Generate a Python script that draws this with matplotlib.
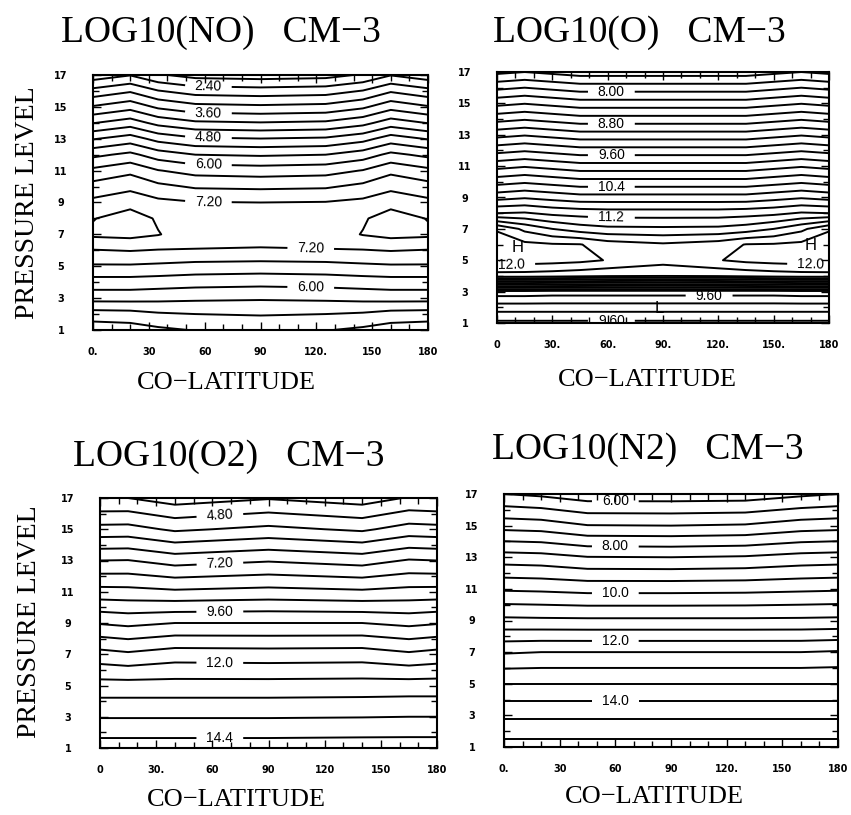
import numpy as np
import matplotlib
matplotlib.use("Agg")
import matplotlib.pyplot as plt

# ---------- values ----------
# rows = pressure level, columns = co-latitude (deg)

no_lev = [1, 2, 3, 4, 5, 6, 7, 8, 9, 10, 11, 12, 13, 14, 15, 16, 17]
no_colat = [0, 20, 35, 55, 90, 125, 145, 160, 180]
no_val = [
    [4.55, 4.60, 4.72, 4.82, 4.90, 4.82, 4.72, 4.60, 4.55],
    [5.02, 5.05, 5.15, 5.20, 5.23, 5.20, 5.15, 5.05, 5.02],
    [5.75, 5.75, 5.72, 5.68, 5.65, 5.68, 5.72, 5.75, 5.75],
    [6.23, 6.23, 6.20, 6.16, 6.13, 6.16, 6.20, 6.23, 6.23],
    [6.75, 6.75, 6.72, 6.66, 6.63, 6.66, 6.72, 6.75, 6.75],
    [7.18, 7.22, 7.18, 7.18, 7.17, 7.18, 7.18, 7.22, 7.18],
    [7.68, 7.72, 7.62, 7.38, 7.33, 7.38, 7.62, 7.72, 7.68],
    [7.58, 7.80, 7.55, 7.40, 7.38, 7.40, 7.55, 7.80, 7.58],
    [7.30, 7.45, 7.30, 7.22, 7.20, 7.22, 7.30, 7.45, 7.30],
    [6.95, 7.10, 6.90, 6.75, 6.72, 6.75, 6.90, 7.10, 6.95],
    [6.50, 6.70, 6.42, 6.25, 6.20, 6.25, 6.42, 6.70, 6.50],
    [5.90, 6.10, 5.80, 5.60, 5.55, 5.60, 5.80, 6.10, 5.90],
    [5.17, 5.39, 5.06, 4.86, 4.81, 4.86, 5.06, 5.39, 5.17],
    [4.38, 4.60, 4.27, 4.07, 4.02, 4.07, 4.27, 4.60, 4.38],
    [3.64, 3.86, 3.53, 3.33, 3.28, 3.33, 3.53, 3.86, 3.64],
    [2.93, 3.15, 2.82, 2.62, 2.57, 2.62, 2.82, 3.15, 2.93],
    [2.16, 2.38, 2.05, 1.85, 1.80, 1.85, 2.05, 2.38, 2.16],
]

o_lev = [1, 2, 3, 4, 5, 6, 7, 8, 9, 10, 11, 12, 13, 14, 15, 16, 17]
o_colat = [0, 15, 30, 45, 60, 90, 120, 135, 150, 165, 180]
o_val = [
    [9.65, 9.65, 9.65, 9.65, 9.65, 9.65, 9.65, 9.65, 9.65, 9.65, 9.65],
    [9.30, 9.30, 9.30, 9.30, 9.30, 9.30, 9.30, 9.30, 9.30, 9.30, 9.30],
    [9.72, 9.72, 9.70, 9.70, 9.70, 9.70, 9.70, 9.70, 9.70, 9.72, 9.72],
    [11.70, 11.70, 11.68, 11.65, 11.62, 11.60, 11.62, 11.65, 11.68, 11.70, 11.70],
    [12.12, 12.10, 12.08, 12.05, 11.99, 11.88, 11.99, 12.05, 12.08, 12.10, 12.12],
    [12.10, 12.05, 12.02, 12.01, 11.90, 11.83, 11.90, 12.01, 12.02, 12.05, 12.10],
    [11.98, 11.75, 11.60, 11.50, 11.45, 11.44, 11.45, 11.50, 11.60, 11.75, 11.98],
    [11.20, 11.22, 11.15, 11.12, 11.10, 11.10, 11.10, 11.12, 11.15, 11.22, 11.20],
    [10.73, 10.78, 10.73, 10.68, 10.68, 10.68, 10.68, 10.68, 10.73, 10.78, 10.73],
    [10.32, 10.37, 10.32, 10.27, 10.27, 10.27, 10.27, 10.27, 10.32, 10.37, 10.32],
    [9.93, 9.98, 9.93, 9.88, 9.88, 9.88, 9.88, 9.88, 9.93, 9.98, 9.93],
    [9.53, 9.58, 9.53, 9.48, 9.48, 9.48, 9.48, 9.48, 9.53, 9.58, 9.53],
    [9.13, 9.18, 9.13, 9.08, 9.08, 9.08, 9.08, 9.08, 9.13, 9.18, 9.13],
    [8.73, 8.78, 8.73, 8.68, 8.68, 8.68, 8.68, 8.68, 8.73, 8.78, 8.73],
    [8.34, 8.39, 8.34, 8.29, 8.29, 8.29, 8.29, 8.29, 8.34, 8.39, 8.34],
    [7.95, 8.00, 7.95, 7.90, 7.90, 7.90, 7.90, 7.90, 7.95, 8.00, 7.95],
    [7.55, 7.60, 7.55, 7.50, 7.50, 7.50, 7.50, 7.50, 7.55, 7.60, 7.55],
]

o2_lev = [1, 3, 5, 7, 9, 11, 13, 15, 17]
o2_colat = [0, 15, 40, 90, 140, 165, 180]
o2_val = [
    [14.70, 14.70, 14.70, 14.70, 14.72, 14.72, 14.72],
    [13.76, 13.76, 13.76, 13.76, 13.78, 13.80, 13.80],
    [12.84, 12.84, 12.84, 12.84, 12.86, 12.88, 12.88],
    [11.62, 11.50, 11.70, 11.67, 11.70, 11.50, 11.62],
    [10.15, 10.05, 10.20, 10.20, 10.20, 10.05, 10.15],
    [8.62, 8.60, 8.50, 8.60, 8.50, 8.60, 8.62],
    [7.20, 7.22, 6.95, 7.15, 6.95, 7.25, 7.20],
    [5.60, 5.62, 5.30, 5.55, 5.30, 5.65, 5.60],
    [4.20, 4.20, 3.90, 4.15, 3.90, 4.25, 4.20],
]

n2_lev = [1, 3, 5, 7, 9, 11, 13, 15, 17]
n2_colat = [0, 20, 45, 90, 130, 160, 180]
n2_val = [
    [15.20, 15.20, 15.20, 15.20, 15.20, 15.20, 15.20],
    [14.40, 14.40, 14.40, 14.40, 14.40, 14.40, 14.40],
    [13.50, 13.50, 13.50, 13.50, 13.50, 13.50, 13.50],
    [12.45, 12.50, 12.50, 12.50, 12.50, 12.50, 12.55],
    [11.12, 11.10, 11.09, 11.09, 11.09, 11.10, 11.12],
    [9.93, 9.90, 9.83, 9.83, 9.85, 9.90, 9.93],
    [8.72, 8.68, 8.52, 8.50, 8.55, 8.68, 8.72],
    [7.30, 7.25, 7.02, 7.00, 7.05, 7.25, 7.30],
    [6.00, 5.90, 5.70, 5.70, 5.72, 5.90, 6.00],
]

titles = ["LOG10(NO)   CM\u22123", "LOG10(O)   CM\u22123",
          "LOG10(O2)   CM\u22123", "LOG10(N2)   CM\u22123"]
xtick_vals = [0, 30, 60, 90, 120, 150, 180]
xtick_text = [
    ["0.", "30", "60", "90", "120.", "150", "180"],
    ["0", "30.", "60.", "90.", "120.", "150.", "180"],
    ["0", "30.", "60", "90", "120", "150", "180"],
    ["0.", "30", "60", "90", "120.", "150", "180"],
]
ytick_vals = [1, 3, 5, 7, 9, 11, 13, 15, 17]


def fmt_label(v):
    return f"{v:.2f}" if v < 10 else f"{v:.1f}"


W, H = 851, 815
fig = plt.figure(figsize=(W / 100, H / 100), dpi=100)


def px_axes(left, top, right, bottom):
    return fig.add_axes([left / W, 1 - bottom / H, (right - left) / W, (bottom - top) / H])


def panel(ax, colat, lev, val, step_lo, step_hi, step, labels, xt):
    levels = np.round(np.arange(step_lo, step_hi, step), 2)
    cs = ax.contour(colat, lev, np.array(val), levels=levels,
                    colors="black", linewidths=1.4)
    txt = ax.clabel(cs, manual=labels, fmt=fmt_label, fontsize=10,
                    inline=True, inline_spacing=8)
    for t in txt:
        t.set_family("Liberation Sans")
    ax.set_xlim(0, 180)
    ax.set_ylim(1, 17)
    ax.set_xticks(xtick_vals)
    ax.set_xticklabels(xt)
    ax.set_xticks(range(0, 181, 10), minor=True)
    ax.set_yticks(ytick_vals)
    ax.set_yticks(range(1, 18), minor=True)
    ax.tick_params(which="both", direction="in", top=True, right=True,
                   width=1.0, labelsize=7)
    ax.tick_params(which="major", length=6)
    ax.tick_params(which="minor", length=4)
    ax.tick_params(axis="x", pad=12)
    ax.tick_params(axis="y", pad=23)
    for lab in ax.get_xticklabels() + ax.get_yticklabels():
        lab.set_fontweight("bold")
    for lab in ax.get_yticklabels():
        lab.set_ha("center")
    for s in ax.spines.values():
        s.set_linewidth(1.5)
    return cs


ax_no = px_axes(93, 75, 428, 330)
panel(ax_no, no_colat, no_lev, no_val, 1.2, 8.0, 0.4,
      [(62, 16.24), (62, 14.54), (62, 13.01), (62, 11.39), (62, 9.02),
       (117, 6.15), (117, 3.73)], xtick_text[0])

ax_o = px_axes(497, 72, 829, 323)
panel(ax_o, o_colat, o_lev, o_val, 7.0, 12.3, 0.2,
      [(62, 15.73), (62, 13.7), (62, 11.7), (62, 9.68), (62, 7.77),
       (8, 4.75), (170, 4.75), (115, 2.9), (62, 1.14)], xtick_text[1])
ax_o.text(11, 5.8, "H", fontsize=12, ha="center", va="center", family="Liberation Sans")
ax_o.text(170, 5.95, "H", fontsize=12, ha="center", va="center", family="Liberation Sans")
ax_o.text(88, 1.95, "L", fontsize=12, ha="center", va="center", family="Liberation Sans")

ax_o2 = px_axes(100, 498, 437, 748)
panel(ax_o2, o2_colat, o2_lev, o2_val, 3.6, 15.0, 0.6,
      [(64, 15.94), (64, 12.94), (64, 9.74), (64, 6.53), (64, 1.64)], xtick_text[2])

ax_n2 = px_axes(504, 494, 838, 747)
panel(ax_n2, n2_colat, n2_lev, n2_val, 5.5, 15.6, 0.5,
      [(60, 16.6), (60, 13.66), (60, 10.75), (60, 7.8), (60, 3.78)], xtick_text[3])

serif = "Liberation Serif"
for (x, y), t in zip([(221, 33), (639, 33), (229, 457), (648, 450)], titles):
    fig.text(x / W, 1 - y / H, t, fontsize=27, family=serif, ha="center", va="center")
for (x, y) in [(226, 383), (647, 380), (236, 800), (654, 797)]:
    fig.text(x / W, 1 - y / H, "CO\u2212LATITUDE", fontsize=19, family=serif,
             ha="center", va="center")
for (x, y) in [(28, 203), (30, 622)]:
    fig.text(x / W, 1 - y / H, "PRESSURE LEVEL", fontsize=20, family=serif,
             ha="center", va="center", rotation=90)

fig.savefig("out.png", dpi=100)
